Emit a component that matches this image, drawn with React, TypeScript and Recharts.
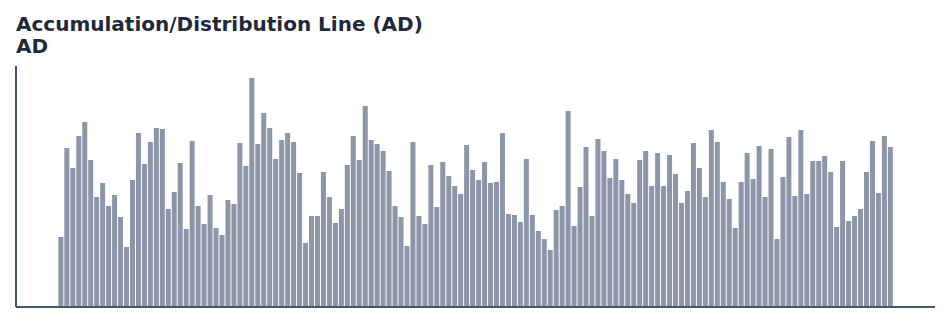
import { BarChart, Bar, XAxis, YAxis } from "recharts";

// AD values (first and last 7 sessions have no reading yet)
const adValues: (number | null)[] = [
  null, null, null, null, null, null, null,
  70, 159, 139, 171, 185, 147, 110, 124, 101, 112,
  90, 60, 127, 174, 143, 165, 179, 178, 98, 115,
  144, 78, 166, 101, 83, 112, 79, 72, 107, 103,
  164, 141, 229, 163, 194, 179, 148, 167, 174, 165,
  134, 64, 91, 91, 135, 110, 84, 98, 142, 171,
  147, 201, 167, 163, 156, 136, 101, 90, 61, 165,
  91, 83, 142, 100, 145, 131, 121, 113, 162, 137,
  127, 145, 124, 125, 174, 93, 92, 85, 148, 92,
  76, 68, 57, 97, 101, 196, 81, 120, 160, 91,
  168, 156, 129, 148, 127, 113, 104, 147, 156, 121,
  154, 121, 152, 133, 104, 116, 164, 139, 110, 177,
  165, 125, 108, 79, 125, 154, 128, 161, 110, 158,
  68, 130, 170, 111, 177, 113, 146, 146, 151, 135,
  80, 146, 86, 91, 98, 135, 166, 114, 171, 160,
  null, null, null, null, null, null, null,
];

const sessions = adValues.map((_, i) => `D${i + 1}`);

const data = sessions.map((name, i) => ({ name, ad: adValues[i] }));

export default function App() {
  return (
    <div style={{ position: "relative", width: 935, height: 308 }}>
      <div
        style={{
          position: "absolute",
          left: 8,
          top: 5,
          fontFamily: "DejaVu Sans",
          fontWeight: "bold",
          fontSize: 20,
          lineHeight: "22px",
          color: "#1e293b",
        }}
      >
        <div>Accumulation/Distribution Line (AD)</div>
        <div>AD</div>
      </div>
      <BarChart
        width={935}
        height={308}
        data={data}
        margin={{ top: 58, right: 8, left: 7, bottom: 8 }}
        barCategoryGap="10%"
      >
        <XAxis
          dataKey="name"
          tick={false}
          tickLine={false}
          height={1}
          axisLine={{ stroke: "#475569", strokeWidth: 2 }}
        />
        <YAxis
          domain={[0, 241]}
          tick={false}
          tickLine={false}
          width={1}
          axisLine={{ stroke: "#475569", strokeWidth: 2 }}
        />
        <Bar dataKey="ad" fill="#8c96a8" isAnimationActive={false} />
      </BarChart>
    </div>
  );
}
